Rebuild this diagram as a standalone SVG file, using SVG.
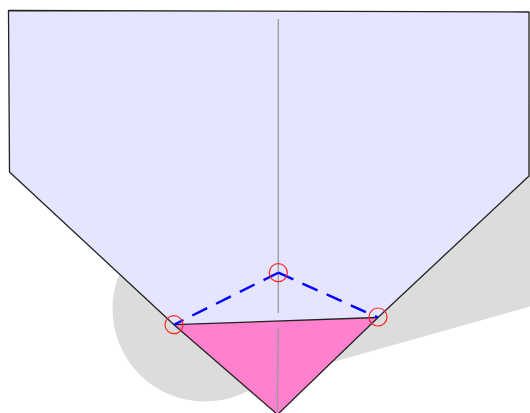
<svg xmlns="http://www.w3.org/2000/svg" width="530" height="413" viewBox="0 0 530 413">
<style>
.shadow{fill:#dcdcdc;stroke:none}
.edge{fill:none;stroke:#222;stroke-width:1.3;stroke-linejoin:round}
.axis{fill:none;stroke:#999;stroke-width:1.3}
.fold{fill:none;stroke:#00f;stroke-width:2.4;stroke-dasharray:16.5 10}
.pt{fill:none;stroke:#f22;stroke-width:1.2}
</style>
<rect width="530" height="413" fill="#fff"/>
<circle class="shadow" cx="205" cy="309" r="92.5"/>
<polygon class="shadow" points="530,306.5 333,362 300,372 205,401 130,250 530,100"/>
<polygon fill="#e5e5ff" points="8.5,10.5 529,12 529,176 378,317.5 174,324.7 9.5,172"/>
<polygon fill="#ff80cc" points="174,324.7 378,317.5 277.5,414.5"/>
<path class="axis" d="M278.3,19V313"/>
<path class="axis" d="M278.3,328L277.3,411"/>
<path class="edge" d="M174,324.7L378,317.5"/>
<polygon class="edge" points="8.5,10.5 529,12 529,176 378,317.5 277.5,414.5 174,324.7 9.5,172"/>
<path class="fold" d="M278.3,272.7L174,324.7"/>
<path class="fold" d="M278.3,272.7L378,317.5"/>
<circle class="pt" cx="174" cy="324.7" r="9"/>
<circle class="pt" cx="278.3" cy="272.7" r="9"/>
<circle class="pt" cx="378" cy="317" r="9"/>
</svg>
